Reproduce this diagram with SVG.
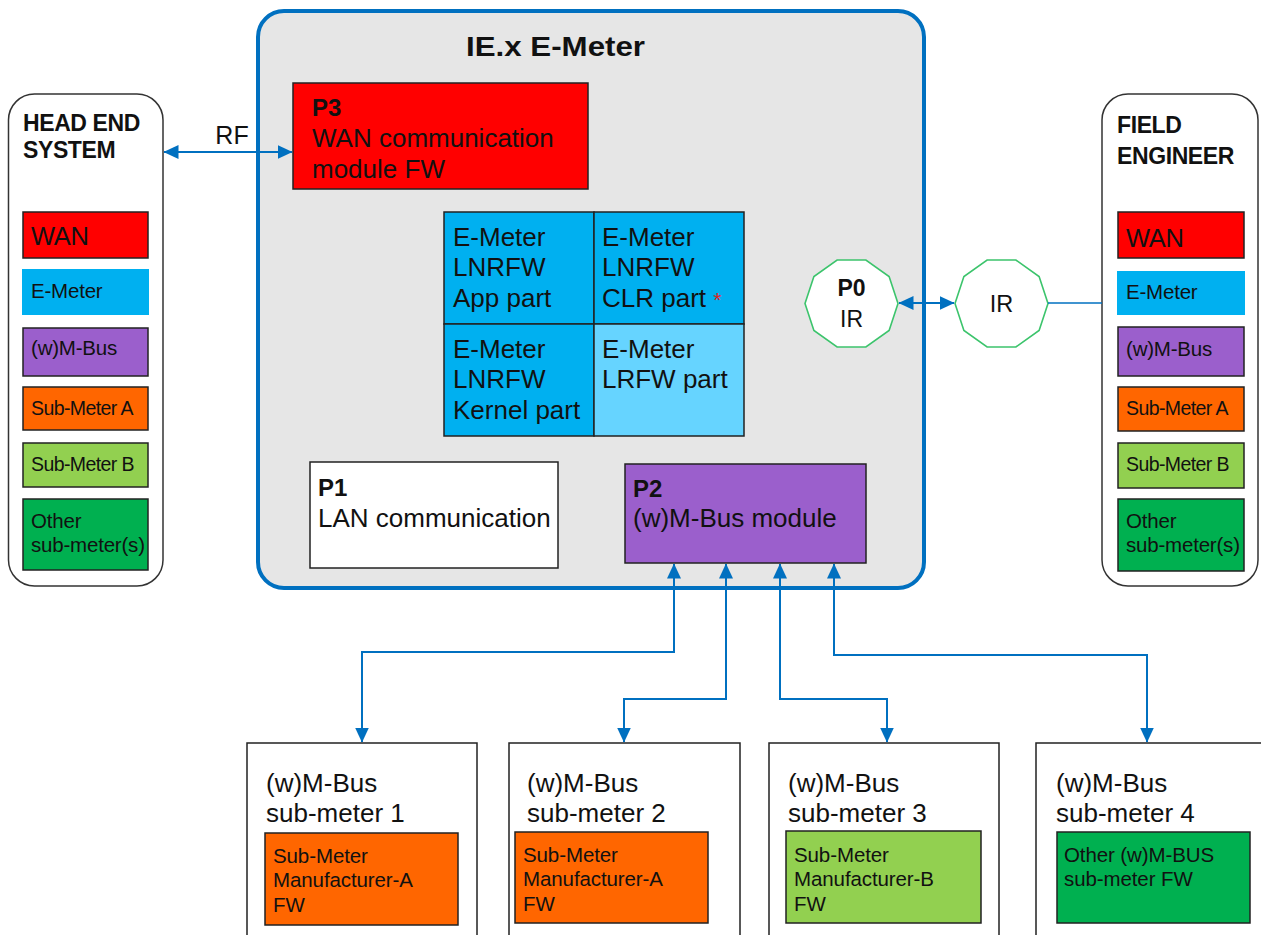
<svg xmlns="http://www.w3.org/2000/svg" width="1261" height="935" viewBox="0 0 1261 935">
<style>
text{font-family:"Liberation Sans",Arial,sans-serif;fill:#111}
.b{font-weight:bold}
.t26{font-size:26px}
.p{font-size:24px;font-weight:bold}
.l20{font-size:20.5px;letter-spacing:-0.2px}
.l19{font-size:19.5px;letter-spacing:-0.6px}
.s20{font-size:20.5px;letter-spacing:-0.1px}
.hd{font-size:23px;font-weight:bold;letter-spacing:-0.4px}
.bx{stroke:#222;stroke-width:1.5}
.rnd{fill:#fff;stroke:#333;stroke-width:1.5}
.con{fill:none;stroke:#0070C0;stroke-width:2}
.oct{fill:#fff;stroke:#3CC46C;stroke-width:1.6}
.red{fill:#FF0000}.cy{fill:#00B0F0}.lc{fill:#66D4FF}.pu{fill:#9B5FCC}.or{fill:#FF6600}.lg{fill:#92D050}.dg{fill:#00B050}
</style>
<defs>
<marker id="ah" viewBox="0 0 15 14" refX="14.5" refY="7" markerWidth="15" markerHeight="14" markerUnits="userSpaceOnUse" orient="auto-start-reverse">
<path d="M0,0 L15,7 L0,14 Z" fill="#0070C0"/>
</marker>
</defs>

<g id="head-end-system">
<rect class="rnd" x="8.5" y="94" width="154.5" height="492" rx="26"/>
<text class="hd" x="23" y="131">HEAD END</text>
<text class="hd" x="23" y="158">SYSTEM</text>
<rect class="bx red" x="23" y="212" width="125" height="46"/>
<text x="31" y="245" style="font-size:25.5px;letter-spacing:-0.3px">WAN</text>
<rect class="cy" x="22" y="269" width="127" height="46"/>
<text class="l20" x="31" y="298">E-Meter</text>
<rect class="bx pu" x="23" y="328" width="125" height="48"/>
<text class="l20" x="31" y="355">(w)M-Bus</text>
<rect class="bx or" x="23" y="387" width="125" height="43"/>
<text class="l19" x="31" y="415">Sub-Meter A</text>
<rect class="bx lg" x="23" y="443" width="125" height="44"/>
<text class="l19" x="31" y="471">Sub-Meter B</text>
<rect class="bx dg" x="23" y="499" width="125" height="71"/>
<text class="l20" x="31" y="528">Other</text>
<text class="l20" x="31" y="552">sub-meter(s)</text>
</g>

<g id="field-engineer">
<rect class="rnd" x="1102" y="94" width="156" height="492" rx="26"/>
<text class="hd" x="1117" y="133">FIELD</text>
<text class="hd" x="1117" y="164">ENGINEER</text>
<rect class="bx red" x="1118" y="212" width="126" height="46"/>
<text x="1126" y="247" style="font-size:25.5px;letter-spacing:-0.3px">WAN</text>
<rect class="cy" x="1117" y="271" width="128" height="44"/>
<text class="l20" x="1126" y="299">E-Meter</text>
<rect class="bx pu" x="1118" y="327" width="126" height="49"/>
<text class="l20" x="1126" y="356">(w)M-Bus</text>
<rect class="bx or" x="1118" y="387" width="126" height="44"/>
<text class="l19" x="1126" y="415">Sub-Meter A</text>
<rect class="bx lg" x="1118" y="443" width="126" height="45"/>
<text class="l19" x="1126" y="471">Sub-Meter B</text>
<rect class="bx dg" x="1118" y="499" width="126" height="72"/>
<text class="l20" x="1126" y="528">Other</text>
<text class="l20" x="1126" y="552">sub-meter(s)</text>
</g>

<g id="ie-x-e-meter">
<rect x="258" y="11" width="666" height="577" rx="26" fill="#E6E6E6" stroke="#0070C0" stroke-width="4"/>
<text class="b" x="466" y="56" textLength="179" lengthAdjust="spacingAndGlyphs" style="font-size:28px">IE.x E-Meter</text>
</g>

<g id="p3-wan-module">
<rect class="bx red" x="293" y="83" width="295" height="106"/>
<text class="p" x="312" y="116">P3</text>
<text class="t26" x="312" y="147">WAN communication</text>
<text class="t26" x="312" y="178">module FW</text>
</g>

<g id="lnrfw-app">
<rect class="bx cy" x="444" y="212" width="150" height="112"/>
<text class="t26" x="453" y="246">E-Meter</text>
<text class="t26" x="453" y="276">LNRFW</text>
<text class="t26" x="453" y="307">App part</text>
</g>
<g id="lnrfw-clr">
<rect class="bx cy" x="594" y="212" width="150" height="112"/>
<text class="t26" x="602" y="246">E-Meter</text>
<text class="t26" x="602" y="276">LNRFW</text>
<text class="t26" x="602" y="307">CLR part <tspan style="fill:#E0201C;font-size:21px">*</tspan></text>
</g>
<g id="lnrfw-kernel">
<rect class="bx cy" x="444" y="324" width="150" height="112"/>
<text class="t26" x="453" y="358">E-Meter</text>
<text class="t26" x="453" y="388">LNRFW</text>
<text class="t26" x="453" y="419">Kernel part</text>
</g>
<g id="lrfw">
<rect class="bx lc" x="594" y="324" width="150" height="112"/>
<text class="t26" x="602" y="358">E-Meter</text>
<text class="t26" x="602" y="388">LRFW part</text>
</g>

<g id="p0-ir">
<polygon class="oct" points="898,303.5 889.1,330.4 865.9,347 837.1,347 813.9,330.4 805,303.5 813.9,276.6 837.1,260 865.9,260 889.1,276.6"/>
<text class="b" x="851.5" y="296" text-anchor="middle" style="font-size:23px">P0</text>
<text x="851.5" y="327" text-anchor="middle" style="font-size:23px">IR</text>
</g>

<g id="ir">
<polygon class="oct" points="1048,303.5 1039.1,330.4 1015.9,347 987.1,347 963.9,330.4 955,303.5 963.9,276.6 987.1,260 1015.9,260 1039.1,276.6"/>
<text x="1001.5" y="312" text-anchor="middle" style="font-size:23.5px">IR</text>
</g>

<g id="p1-lan">
<rect class="bx" fill="#fff" x="310" y="462" width="248" height="106"/>
<text class="p" x="318" y="496">P1</text>
<text class="t26" x="318" y="527">LAN communication</text>
</g>

<g id="p2-mbus">
<rect class="bx pu" x="625" y="464" width="241" height="99"/>
<text class="p" x="633" y="497">P2</text>
<text class="t26" x="633" y="527">(w)M-Bus module</text>
</g>

<g id="sub-meter-1">
<rect class="bx" fill="#fff" x="247" y="743" width="230" height="200"/>
<text class="t26" x="266" y="792">(w)M-Bus</text>
<text class="t26" x="266" y="822">sub-meter 1</text>
<rect class="bx or" x="265" y="833" width="193" height="92"/>
<text class="s20" x="273" y="863">Sub-Meter</text>
<text class="s20" x="273" y="887">Manufacturer-A</text>
<text class="s20" x="273" y="912">FW</text>
</g>
<g id="sub-meter-2">
<rect class="bx" fill="#fff" x="509" y="743" width="231" height="200"/>
<text class="t26" x="527" y="792">(w)M-Bus</text>
<text class="t26" x="527" y="822">sub-meter 2</text>
<rect class="bx or" x="515" y="832" width="193" height="91"/>
<text class="s20" x="523" y="862">Sub-Meter</text>
<text class="s20" x="523" y="886">Manufacturer-A</text>
<text class="s20" x="523" y="911">FW</text>
</g>
<g id="sub-meter-3">
<rect class="bx" fill="#fff" x="769" y="743" width="230" height="200"/>
<text class="t26" x="788" y="792">(w)M-Bus</text>
<text class="t26" x="788" y="822">sub-meter 3</text>
<rect class="bx lg" x="786" y="831" width="195" height="92"/>
<text class="s20" x="794" y="862">Sub-Meter</text>
<text class="s20" x="794" y="886">Manufacturer-B</text>
<text class="s20" x="794" y="911">FW</text>
</g>
<g id="sub-meter-4">
<rect class="bx" fill="#fff" x="1036" y="743" width="240" height="200"/>
<text class="t26" x="1056" y="792">(w)M-Bus</text>
<text class="t26" x="1056" y="822">sub-meter 4</text>
<rect class="bx dg" x="1057" y="832" width="193" height="91"/>
<text class="s20" x="1064" y="862">Other (w)M-BUS</text>
<text class="s20" x="1064" y="886">sub-meter FW</text>
</g>

<g id="connectors">
<line class="con" x1="164" y1="152" x2="292" y2="152" marker-start="url(#ah)" marker-end="url(#ah)"/>
<text x="232" y="144" text-anchor="middle" style="font-size:25px">RF</text>
<line class="con" x1="899" y1="303" x2="954" y2="303" marker-start="url(#ah)" marker-end="url(#ah)"/>
<line class="con" x1="1048" y1="303" x2="1102" y2="303" style="stroke-width:1.6"/>
<path class="con" d="M674,564 V652 H362 V742" marker-start="url(#ah)" marker-end="url(#ah)"/>
<path class="con" d="M726,564 V699 H624 V742" marker-start="url(#ah)" marker-end="url(#ah)"/>
<path class="con" d="M780,564 V699 H887 V742" marker-start="url(#ah)" marker-end="url(#ah)"/>
<path class="con" d="M834,564 V655 H1147 V742" marker-start="url(#ah)" marker-end="url(#ah)"/>
</g>
</svg>
